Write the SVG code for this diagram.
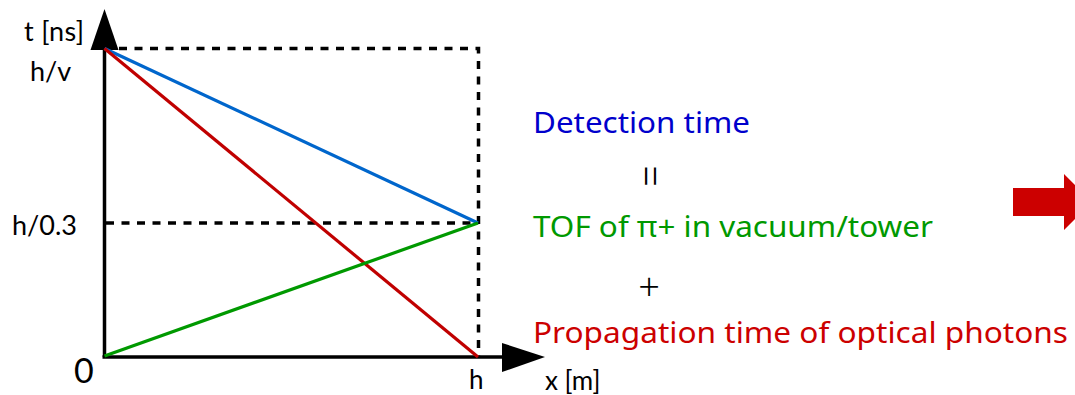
<svg xmlns="http://www.w3.org/2000/svg" width="1075" height="395" viewBox="0 0 1075 395">
<style>
.axis{stroke:#000;stroke-width:3.5;fill:none}
.dash{stroke:#000;stroke-width:3.5;fill:none;stroke-dasharray:8 7.5}
.lbl{font-family:Lato,"Noto Sans",sans-serif;font-size:27px;fill:#000;font-variant-ligatures:none}
.big{font-family:"Noto Sans",Lato,sans-serif;font-size:29px;font-variant-ligatures:none}
.sym{font-family:"Noto Sans",sans-serif;font-size:38px;font-weight:300;fill:#000}
</style>
<rect width="1075" height="395" fill="#fff"/>
<g id="axes">
<line class="axis" x1="104.5" y1="357" x2="104.5" y2="45"/>
<polygon points="104.5,9 90.5,50 118.5,50" fill="#000"/>
<line class="axis" x1="102.5" y1="357" x2="505" y2="357"/>
<polygon points="545,357 502,343 502,372" fill="#000"/>
</g>
<g id="guides">
<path class="dash" d="M119,48.5 H478.5 V357"/>
<path class="dash" d="M106,223 H478"/>
</g>
<g id="connectors">
<line x1="104.5" y1="48.5" x2="478" y2="223" stroke="#0066CC" stroke-width="3.2"/>
<line x1="104.5" y1="48.5" x2="478" y2="357" stroke="#C00000" stroke-width="3.2"/>
<line x1="104.5" y1="356" x2="478" y2="223" stroke="#009900" stroke-width="3.2"/>
</g>
<g id="axis-labels">
<text class="lbl" x="24" y="41" textLength="60">t [ns]</text>
<text class="lbl" x="30" y="81">h/v</text>
<text class="lbl" x="12" y="235">h/0.3</text>
<text class="lbl" x="74" y="383" style="font-size:34px">0</text>
<text class="lbl" x="469" y="389" style="font-size:26px">h</text>
<text class="lbl" x="545" y="390" style="font-size:26px">x [m]</text>
</g>
<g id="equation">
<text class="big" x="533" y="133" fill="#0000CC" textLength="217" lengthAdjust="spacingAndGlyphs">Detection time</text>
<text class="sym" transform="translate(648.5,176) rotate(90) scale(1,1.15)" x="0" y="12" text-anchor="middle">=</text>
<text class="big" x="533" y="237" fill="#009900" textLength="400" lengthAdjust="spacingAndGlyphs">TOF of π+ in vacuum/tower</text>
<text class="sym" x="649" y="300.5" text-anchor="middle">+</text>
<text class="big" x="533" y="343" fill="#CC0000" textLength="535" lengthAdjust="spacingAndGlyphs">Propagation time of optical photons</text>
</g>
<g id="arrow">
<polygon points="1013,188 1064,188 1064,174 1092,202 1064,230 1064,216 1013,216" fill="#CC0000"/>
</g>
</svg>
